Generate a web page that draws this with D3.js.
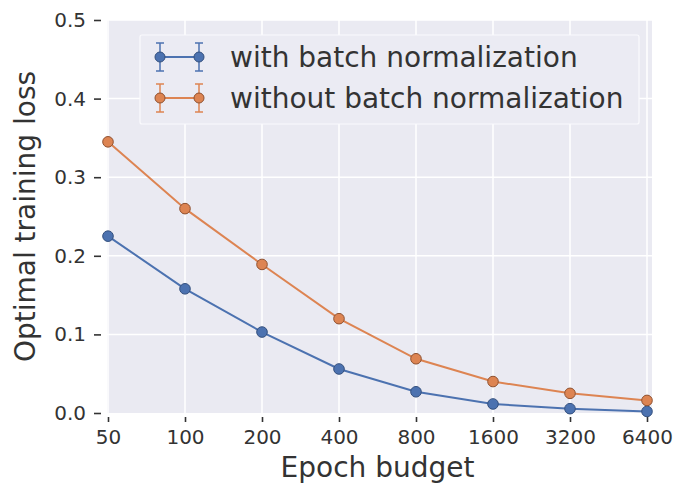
<!DOCTYPE html>
<html>
	<head>
		<meta charset="UTF-8">
		<title>Optimal training loss</title>
		<style>
			body { margin: 0; background: #fff; }
			text { font-family: "DejaVu Sans", sans-serif; fill: #333; }
		</style>
	</head>
	<body>
		<div id="chart"></div>
	</body>
	<script src="https://cdn.jsdelivr.net/npm/d3@7"></script>
	<script>
		var epochs = ["50", "100", "200", "400", "800", "1600", "3200", "6400"];
		var withBN = [0.225, 0.158, 0.103, 0.056, 0.027, 0.0115, 0.0055, 0.002];
		var withoutBN = [0.345, 0.260, 0.189, 0.120, 0.069, 0.040, 0.025, 0.016];
		var yTicks = [0.0, 0.1, 0.2, 0.3, 0.4, 0.5];
		var seriesNames = ["with batch normalization", "without batch normalization"];

		var width = 675,
			height = 483,
			plot = { left: 107, right: 652, top: 20, bottom: 413 };
		var colors = ["#4C72B0", "#DD8452"];
		var edges = ["#34507e", "#8f5130"];

		var svg = d3.select("#chart")
			.append("svg")
			.attr("width", width)
			.attr("height", height);

		var xScale = d3.scalePoint()
			.domain(epochs)
			.range([108, 647]);
		var yScale = d3.scaleLinear()
			.domain([0, 0.5])
			.range([plot.bottom, plot.top]);

		// background
		svg.append("rect")
			.attr("x", plot.left)
			.attr("y", plot.top)
			.attr("width", plot.right - plot.left)
			.attr("height", plot.bottom - plot.top)
			.attr("fill", "#EAEAF2");

		// grid
		svg.append("g")
			.selectAll("line")
			.data(yTicks.slice(1))
			.join("line")
			.attr("x1", plot.left)
			.attr("x2", plot.right)
			.attr("y1", function(d) { return yScale(d); })
			.attr("y2", function(d) { return yScale(d); })
			.attr("stroke", "#fff")
			.attr("stroke-width", 1.5);
		svg.append("g")
			.selectAll("line")
			.data(epochs)
			.join("line")
			.attr("x1", function(d) { return xScale(d); })
			.attr("x2", function(d) { return xScale(d); })
			.attr("y1", plot.top)
			.attr("y2", plot.bottom)
			.attr("stroke", "#fff")
			.attr("stroke-width", 1.5);

		// axes
		var xAxis = d3.axisBottom(xScale).tickSize(5).tickPadding(8);
		var gx = svg.append("g")
			.attr("transform", "translate(0," + (plot.bottom + 4) + ")")
			.call(xAxis);
		gx.select(".domain").remove();
		gx.selectAll("line").attr("stroke", "#333").attr("stroke-width", 1.6);
		gx.selectAll("text").attr("font-size", "20px").attr("fill", "#333");

		var yAxis = d3.axisLeft(yScale)
			.tickValues(yTicks)
			.tickFormat(d3.format(".1f"))
			.tickSize(7)
			.tickPadding(8);
		var gy = svg.append("g")
			.attr("transform", "translate(" + (plot.left - 6) + ",0)")
			.call(yAxis);
		gy.select(".domain").remove();
		gy.selectAll("line").attr("stroke", "#333").attr("stroke-width", 1.6);
		gy.selectAll("text").attr("font-size", "20px").attr("fill", "#333");

		svg.append("text")
			.attr("x", (plot.left + plot.right) / 2 - 2)
			.attr("y", 477)
			.attr("text-anchor", "middle")
			.attr("font-size", "28px")
			.text("Epoch budget");

		svg.append("text")
			.attr("transform", "rotate(-90)")
			.attr("x", -(plot.top + plot.bottom) / 2)
			.attr("y", 35)
			.attr("text-anchor", "middle")
			.attr("font-size", "28px")
			.text("Optimal training loss");

		// lines and markers
		var series = [withBN, withoutBN];
		var line = d3.line()
			.x(function(d, i) { return xScale(epochs[i]); })
			.y(function(d) { return yScale(d); });

		series.forEach(function(values, k) {
			svg.append("path")
				.datum(values)
				.attr("d", line)
				.attr("fill", "none")
				.attr("stroke", colors[k])
				.attr("stroke-width", 2);
			svg.append("g")
				.selectAll("circle")
				.data(values)
				.join("circle")
				.attr("cx", function(d, i) { return xScale(epochs[i]); })
				.attr("cy", function(d) { return yScale(d); })
				.attr("r", 5.3)
				.attr("fill", colors[k])
				.attr("stroke", edges[k])
				.attr("stroke-width", 1);
		});

		// legend
		var legend = svg.append("g");
		legend.append("rect")
			.attr("x", 140)
			.attr("y", 35)
			.attr("width", 499)
			.attr("height", 89)
			.attr("rx", 2)
			.attr("fill", "#EBEBF3")
			.attr("stroke", "#fafafd")
			.attr("stroke-width", 1.2);

		var items = legend.selectAll(".item")
			.data(seriesNames)
			.join("g")
			.attr("class", "item")
			.attr("transform", function(d, i) { return "translate(0," + (57 + i * 41) + ")"; });

		items.append("line")
			.attr("x1", 160).attr("x2", 199)
			.attr("y1", 0).attr("y2", 0)
			.attr("stroke", function(d, i) { return colors[i]; })
			.attr("stroke-width", 2);
		[160, 199].forEach(function(cx) {
			items.append("line")
				.attr("x1", cx).attr("x2", cx)
				.attr("y1", -14).attr("y2", 14)
				.attr("stroke", function(d, i) { return colors[i]; })
				.attr("stroke-opacity", 0.75)
				.attr("stroke-width", 2);
			[-14, 14].forEach(function(cy) {
				items.append("line")
					.attr("x1", cx - 4).attr("x2", cx + 4)
					.attr("y1", cy).attr("y2", cy)
					.attr("stroke", function(d, i) { return colors[i]; })
					.attr("stroke-opacity", 0.75)
					.attr("stroke-width", 2);
			});
			items.append("circle")
				.attr("cx", cx)
				.attr("cy", 0)
				.attr("r", 5)
				.attr("fill", function(d, i) { return colors[i]; })
				.attr("stroke", function(d, i) { return edges[i]; });
		});
		items.append("text")
			.attr("x", 230)
			.attr("y", 10)
			.attr("font-size", "28px")
			.text(function(d) { return d; });
	</script>
</html>
